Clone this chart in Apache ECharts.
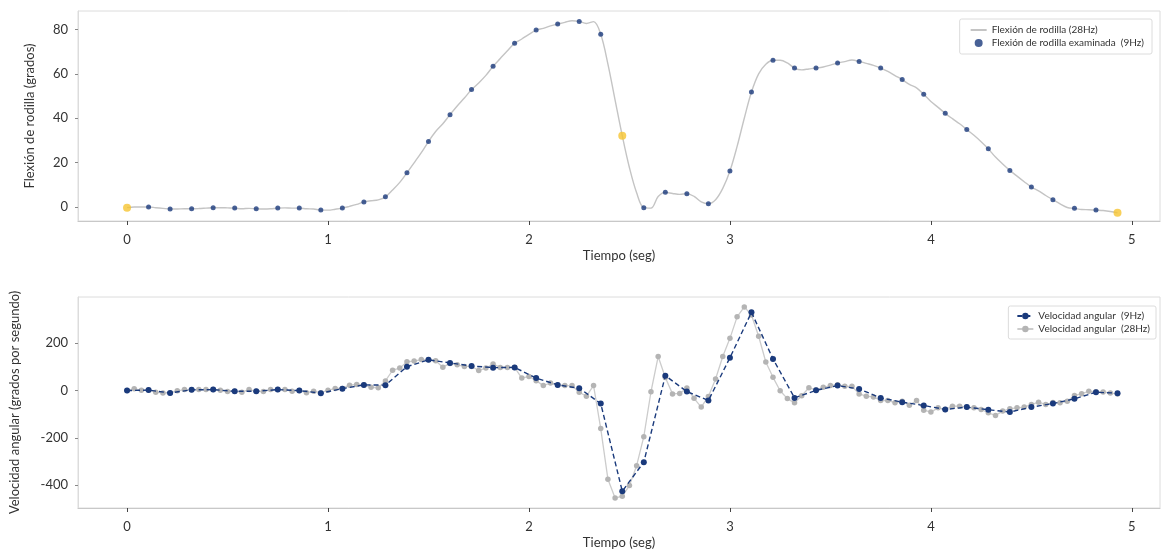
<!DOCTYPE html>
<html>
<head>
<meta charset="utf-8">
<script src="https://cdn.jsdelivr.net/npm/echarts@6/dist/echarts.min.js"></script>
<style>
  html, body { margin: 0; padding: 0; background: #fff; }
  #chart { width: 1162px; height: 550px; }
</style>
</head>
<body>
<div id="chart"></div>
<script>
// frecuencias de muestreo
const rate28 = 28
const step9 = 3 // 9Hz = una de cada 3 muestras de 28Hz

// flexión de rodilla, 28Hz (grados)
const flexion28 = [
  -0.3, 0.0, 0.0, 0.0, -0.3, -0.6, -0.9, -0.9, -0.8, -0.8,
  -0.7, -0.5, -0.3, -0.3, -0.4, -0.5, -0.8, -0.6, -0.8, -0.9,
  -0.8, -0.5, -0.4, -0.5, -0.5, -0.8, -0.9, -1.4, -1.4, -1.0,
  -0.5, 0.3, 1.2, 2.3, 2.8, 3.2, 4.6, 7.7, 11.1, 15.4,
  19.9, 24.5, 29.5, 34.0, 37.5, 41.6, 45.5, 49.1, 52.9, 55.9,
  59.3, 63.4, 66.9, 70.4, 73.8, 75.7, 77.8, 79.7, 80.5, 81.6,
  82.4, 83.2, 83.9, 83.6, 82.7, 83.5, 77.8, 64.4, 48.2, 32.1,
  17.7, 6.4, -0.3, -0.5, 4.7, 6.6, 6.1, 5.7, 6.0, 4.8,
  2.3, 1.5, 3.3, 8.4, 16.2, 27.3, 40.0, 51.8, 60.0, 64.3,
  66.1, 66.1, 64.9, 62.6, 61.8, 62.2, 62.6, 63.1, 63.9, 64.9,
  65.5, 66.2, 65.6, 64.7, 63.8, 62.6, 61.1, 59.2, 57.4, 55.2,
  53.7, 50.8, 47.5, 44.9, 42.2, 39.8, 37.5, 34.9, 32.3, 29.4,
  26.2, 22.5, 19.4, 16.5, 13.9, 11.4, 9.0, 7.3, 5.2, 3.3,
  1.4, -0.2, -0.6, -1.1, -1.2, -1.4, -1.6, -2.0, -2.6
]

// flexión examinada, 9Hz (grados)
const flexion9 = [
  -0.3, 0.0, -0.9, -0.8, -0.3, -0.5, -0.8, -0.5, -0.5, -1.4,
  -0.5, 2.3, 4.6, 15.4, 29.5, 41.6, 52.9, 63.4, 73.8, 79.7,
  82.4, 83.6, 77.8, 32.1, -0.3, 6.6, 6.0, 1.5, 16.2, 51.8,
  66.1, 62.6, 62.6, 64.9, 65.6, 62.6, 57.4, 50.8, 42.2, 34.9,
  26.2, 16.5, 9.0, 3.3, -0.6, -1.4, -2.6
]
// puntos amarillos (inicio, mitad, final) -> índices en flexion9
const destacados = [0, 23, 46]

// velocidad angular 9Hz (grados/seg)
const velocidad9 = [
  0, 2, -10, 3, 4, -3, -3, 4, 0, -11,
  8, 24, 23, 101, 130, 117, 104, 97, 98, 53,
  24, 10, -55, -426, -303, 63, -4, -42, 139, 331,
  134, -31, 1, 21, 7, -31, -49, -63, -80, -70,
  -81, -91, -70, -55, -35, -7, -11
]

// velocidad angular 28Hz (grados/seg)
const velocidad28 = [
  0, 8, 1, 2, -7, -10, -10, -1, 4, 3,
  4, 4, 4, 1, -4, -3, -7, 4, -3, -4,
  4, 4, 4, -3, 0, -9, -3, -9, 1, 9,
  9, 23, 26, 24, 14, 12, 41, 86, 95, 122,
  125, 131, 130, 126, 99, 115, 109, 102, 102, 85,
  95, 112, 98, 98, 98, 53, 60, 42, 21, 32,
  24, 21, 21, -7, -24, 21, -161, -375, -455, -447,
  -402, -318, -195, -5, 144, 55, -14, -12, 11, -33,
  -70, -25, 49, 144, 221, 312, 354, 320, 230, 121,
  56, -1, -34, -52, -22, 12, 2, 14, 21, 25,
  18, 18, -14, -24, -27, -42, -42, -52, -45, -62,
  -42, -83, -91, -73, -80, -66, -66, -70, -73, -80,
  -94, -105, -87, -77, -73, -70, -59, -49, -59, -50,
  -52, -45, -21, -13, -3, -5, -6, -10, -15
]

const xTicks = [0, 1, 2, 3, 4, 5]
const yTicksTop = [0, 20, 40, 60, 80]
const yTicksBottom = [-400, -200, 0, 200]

const font = 'Lato, "Noto Sans", sans-serif'
const navy = '#1a3a7c'
const grey = '#b4b4b4'

const t28 = (v, j) => [j / rate28, v]
const t9 = (v, i) => [i * step9 / rate28, v]

function xAxisFor (gridIndex) {
  return {
    gridIndex: gridIndex,
    type: 'value',
    min: -0.244,
    max: 5.14,
    name: 'Tiempo (seg)',
    nameLocation: 'middle',
    nameGap: 28,
    nameTextStyle: { fontFamily: font, fontSize: 13, color: '#333' },
    axisLine: { onZero: false, lineStyle: { color: '#c8c8c8', width: 1.2 } },
    axisTick: { customValues: xTicks, length: 4, lineStyle: { color: '#444' } },
    axisLabel: { customValues: xTicks, margin: 12, fontFamily: font, fontSize: 13, color: '#333' },
    splitLine: { show: false }
  }
}

function yAxisFor (gridIndex, min, max, ticks, name, gap) {
  return {
    gridIndex: gridIndex,
    type: 'value',
    min: min,
    max: max,
    name: name,
    nameLocation: 'middle',
    nameGap: gap,
    nameTextStyle: { fontFamily: font, fontSize: 13, color: '#333' },
    axisLine: { show: true, onZero: false, lineStyle: { color: '#dcdcdc' } },
    axisTick: { show: true, customValues: ticks, length: 3, lineStyle: { color: '#888' } },
    axisLabel: { customValues: ticks, margin: 10, fontFamily: font, fontSize: 13, color: '#333' },
    splitLine: { show: false }
  }
}

const legendBase = {
  orient: 'vertical',
  backgroundColor: '#fff',
  borderColor: '#dcdcdc',
  borderWidth: 1,
  borderRadius: 2,
  itemGap: 3,
  itemWidth: 16,
  itemHeight: 8,
  textStyle: { fontFamily: font, fontSize: 10, color: '#333' }
}

const option = {
  animation: false,
  backgroundColor: '#fff',
  grid: [
    { left: 78, right: 2, top: 11, height: 210, show: true, borderColor: '#dcdcdc', borderWidth: 1 },
    { left: 78, right: 2, top: 297, height: 212, show: true, borderColor: '#dcdcdc', borderWidth: 1 }
  ],
  legend: [
    Object.assign({}, legendBase, {
      right: 10, top: 19,
      padding: [6, 8, 6, 10],
      data: [
        { name: 'Flexión de rodilla (28Hz)', itemStyle: { color: 'rgba(0,0,0,0)', borderWidth: 0 } },
        { name: 'Flexión de rodilla examinada  (9Hz)', icon: 'circle' }
      ]
    }),
    Object.assign({}, legendBase, {
      right: 6, top: 306,
      padding: [5, 6, 5, 8],
      data: ['Velocidad angular  (9Hz)', 'Velocidad angular  (28Hz)']
    })
  ],
  xAxis: [xAxisFor(0), xAxisFor(1)],
  yAxis: [
    yAxisFor(0, -6.3, 88.3, yTicksTop, 'Flexión de rodilla (grados)', 42),
    yAxisFor(1, -497, 396, yTicksBottom, 'Velocidad angular (grados por segundo)', 57)
  ],
  series: [
    {
      name: 'Flexión de rodilla (28Hz)',
      type: 'line',
      xAxisIndex: 0, yAxisIndex: 0,
      data: flexion28.map(t28),
      symbol: 'none',
      smooth: 0.35,
      lineStyle: { color: '#c4c4c4', width: 1.4 },
      itemStyle: { color: '#c4c4c4' }
    },
    {
      name: 'Flexión de rodilla examinada  (9Hz)',
      type: 'scatter',
      xAxisIndex: 0, yAxisIndex: 0,
      data: flexion9.map(t9).filter((p, i) => destacados.indexOf(i) < 0),
      symbolSize: 5,
      itemStyle: { color: navy },
      z: 3
    },
    {
      name: 'destacados',
      type: 'scatter',
      xAxisIndex: 0, yAxisIndex: 0,
      data: destacados.map(i => t9(flexion9[i], i)),
      symbolSize: 8,
      itemStyle: { color: '#f6c431' },
      z: 4
    },
    {
      name: 'Velocidad angular  (28Hz)',
      type: 'line',
      xAxisIndex: 1, yAxisIndex: 1,
      data: velocidad28.map(t28),
      symbol: 'circle',
      symbolSize: 5.5,
      showAllSymbol: true,
      lineStyle: { color: '#cccccc', width: 1.3 },
      itemStyle: { color: grey },
      z: 2
    },
    {
      name: 'Velocidad angular  (9Hz)',
      type: 'line',
      xAxisIndex: 1, yAxisIndex: 1,
      data: velocidad9.map(t9),
      symbol: 'circle',
      symbolSize: 6,
      showAllSymbol: true,
      lineStyle: { color: navy, width: 1.4, type: [5, 3] },
      itemStyle: { color: navy },
      z: 3
    }
  ]
}

const myChart = echarts.init(document.getElementById('chart'))
myChart.setOption(option)
</script>
</body>
</html>
